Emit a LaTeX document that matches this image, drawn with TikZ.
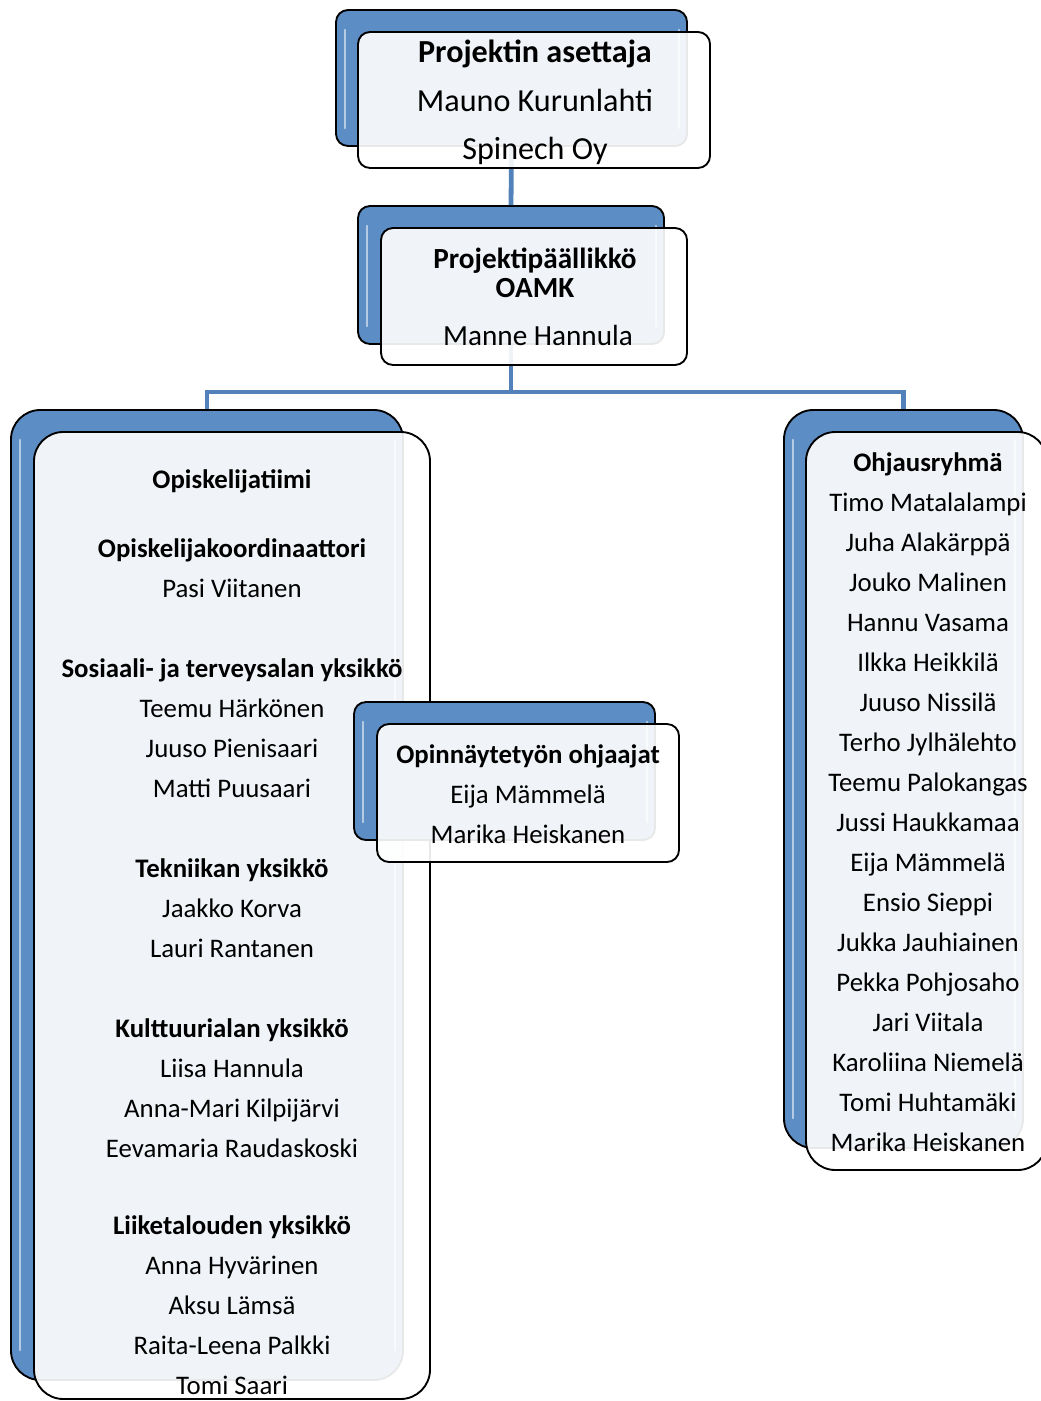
\documentclass[tikz,border=0pt]{standalone}
\usepackage{fontspec}
\setmainfont{Carlito}
\usetikzlibrary{fit}
\definecolor{backblue}{RGB}{92,141,197}
\definecolor{linkblue}{RGB}{82,130,185}
\begin{document}
\begin{tikzpicture}[x=0.75pt,y=-0.75pt,
  backbox/.style={draw=black,line width=1.4pt,fill=backblue,inner sep=0pt,rounded corners=#1},
  backbox/.default=9pt,
  frontbox/.style={draw=black,line width=1.4pt,fill=white,fill opacity=0.91,inner sep=0pt,rounded corners=#1},
  frontbox/.default=9pt,
  link/.style={draw=linkblue,line width=3.6pt},
  shine/.style={draw=white,line width=2.2pt,draw opacity=0.55,line cap=round},
  txt/.style={anchor=base,inner sep=0pt,font=\fontsize{20.1}{22}\selectfont},
  btxt/.style={txt,font=\fontsize{20.1}{22}\selectfont\bfseries},
  toptxt/.style={anchor=base,inner sep=0pt,font=\fontsize{24.1}{26}\selectfont},
  midtxt/.style={anchor=base,inner sep=0pt,font=\fontsize{21.9}{24}\selectfont}]
\useasboundingbox (0,0) rectangle (1040,1401);

\coordinate (bar) at (511,392);
% back boxes of the tree
\node[backbox, fit={(336,10) (687,146)}] (topB) {};
\node[backbox, fit={(358,206) (664,344)}] (pmB) {};
\node[backbox=22pt, fit={(11,410) (403,1380)}] (leftB) {};
\node[backbox=22pt, fit={(784,410) (1023,1148)}] (rightB) {};

% connectors
\draw[link] (topB.south) -- (pmB.north);
\draw[link] (pmB.south) -- (bar);
\draw[link] (bar) -| (leftB.north);
\draw[link] (bar) -| (rightB.north);

% shine highlights on back boxes
\draw[shine] (345,30) -- (345,128);  \draw[shine] (679,30) -- (679,128);
\draw[shine] (367,226) -- (367,326); \draw[shine] (656,226) -- (656,326);
\draw[shine] (20,440) -- (20,1350);  \draw[shine] (395,440) -- (395,1350);
\draw[shine] (793,440) -- (793,1118); \draw[shine] (1015,440) -- (1015,1118);

% front boxes
\node[frontbox, fit={(358,32) (710,168)}] (topF) {};
\node[frontbox, fit={(381,228) (687,365)}] (pmF) {};
\node[frontbox=22pt, fit={(34,432) (430,1399)}] (leftF) {};
\node[frontbox=22pt, fit={(806,432) (1047,1170)}] (rightF) {};

% thesis supervisors box (on top of left box)
\node[backbox, fit={(354,702) (655,840)}] (opB) {};
\draw[shine] (363,722) -- (363,822); \draw[shine] (647,722) -- (647,822);
\node[frontbox, fit={(377,724) (679,862)}] (opF) {};

% top box
\node[toptxt,font=\fontsize{24.1}{26}\selectfont\bfseries] (t1) at (535,63) {Projektin asettaja};
\node[toptxt] (t2) at (535,112) {Mauno Kurunlahti};
\node[toptxt] (t3) at (535,160) {Spinech Oy};

% project manager
\node[midtxt,font=\fontsize{21.9}{24}\selectfont\bfseries] (p1) at (535,269) {Projektipäällikkö};
\node[midtxt,font=\fontsize{21.9}{24}\selectfont\bfseries] (p2) at (535,298) {OAMK};
\node[midtxt] (p3) at (538,345) {Manne Hannula};

% left box
\node[btxt] (l1) at (232,488) {Opiskelijatiimi};
\node[btxt] (l2) at (232,557) {Opiskelijakoordinaattori};
\node[txt] (l3) at (232,597) {Pasi Viitanen};
\node[btxt] (l4) at (232,677) {Sosiaali- ja terveysalan yksikkö};
\node[txt] (l5) at (232,717) {Teemu Härkönen};
\node[txt] (l6) at (232,757) {Juuso Pienisaari};
\node[txt] (l7) at (232,797) {Matti Puusaari};
\node[btxt] (l8) at (232,877) {Tekniikan yksikkö};
\node[txt] (l9) at (232,917) {Jaakko Korva};
\node[txt] (l10) at (232,957) {Lauri Rantanen};
\node[btxt] (l11) at (232,1037) {Kulttuurialan yksikkö};
\node[txt] (l12) at (232,1077) {Liisa Hannula};
\node[txt] (l13) at (232,1117) {Anna-Mari Kilpijärvi};
\node[txt] (l14) at (232,1157) {Eevamaria Raudaskoski};
\node[btxt] (l15) at (232,1234) {Liiketalouden yksikkö};
\node[txt] (l16) at (232,1274) {Anna Hyvärinen};
\node[txt] (l17) at (232,1314) {Aksu Lämsä};
\node[txt] (l18) at (232,1354) {Raita-Leena Palkki};
\node[txt] (l19) at (232,1394) {Tomi Saari};

% right box
\node[btxt] (r0) at (928,471) {Ohjausryhmä};
\foreach \n [count=\i] in {Timo Matalalampi,Juha Alakärppä,Jouko Malinen,Hannu Vasama,Ilkka Heikkilä,Juuso Nissilä,Terho Jylhälehto,Teemu Palokangas,Jussi Haukkamaa,Eija Mämmelä,Ensio Sieppi,Jukka Jauhiainen,Pekka Pohjosaho,Jari Viitala,Karoliina Niemelä,Tomi Huhtamäki,Marika Heiskanen}
  \node[txt] (r\i) at (928,{471+40*\i}) {\n};

% thesis supervisors
\node[btxt] (o1) at (528,763) {Opinnäytetyön ohjaajat};
\node[txt] (o2) at (528,803) {Eija Mämmelä};
\node[txt] (o3) at (528,843) {Marika Heiskanen};
\end{tikzpicture}
\end{document}
